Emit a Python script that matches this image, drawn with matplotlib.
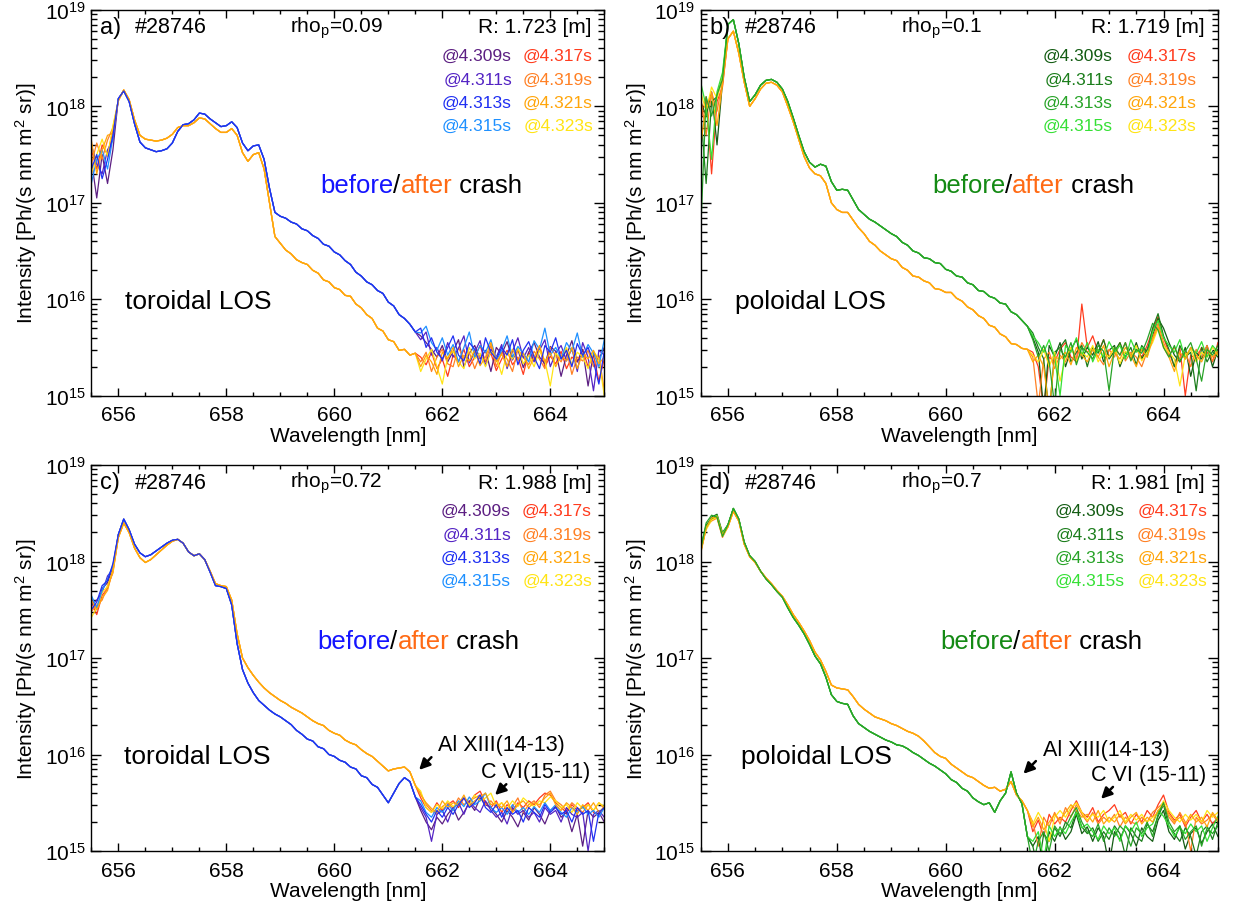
import numpy as np
import matplotlib
matplotlib.use("Agg")
import matplotlib.pyplot as plt
from matplotlib.ticker import MultipleLocator, LogLocator, NullFormatter

plt.rcParams['font.family'] = ['Liberation Sans', 'DejaVu Sans']
plt.rcParams['mathtext.fontset'] = 'custom'
plt.rcParams['mathtext.rm'] = 'Liberation Sans'
plt.rcParams['mathtext.it'] = 'Liberation Sans:italic'

# wavelength sampling (nm): left noisy edge, smooth body, noisy tail
wl_head = np.round(np.arange(655.5, 655.95, 0.1), 2)
wl_base = np.round(np.arange(656.0, 661.55, 0.1), 2)
wl_tail = np.round(np.arange(661.6, 665.05, 0.1), 2)

times_before = ['@4.309s', '@4.311s', '@4.313s', '@4.315s']
times_after = ['@4.317s', '@4.319s', '@4.321s', '@4.323s']

# ---- panel a : toroidal LOS, rho_p=0.09 (log10 intensity) ----
a_before_base = [18.08, 18.16, 18.05, 17.82, 17.63, 17.57, 17.55, 17.53, 17.54, 17.56,
                 17.62, 17.74, 17.81, 17.82, 17.86, 17.93, 17.92, 17.87, 17.83, 17.79,
                 17.80, 17.84, 17.78, 17.62, 17.54, 17.59, 17.60, 17.45, 17.15, 16.90,
                 16.86, 16.84, 16.80, 16.78, 16.73, 16.71, 16.66, 16.63, 16.57, 16.55,
                 16.49, 16.46, 16.40, 16.36, 16.28, 16.24, 16.18, 16.15, 16.09, 16.06,
                 15.97, 15.93, 15.84, 15.80, 15.74, 15.66]
a_after_base = [18.06, 18.17, 18.07, 17.86, 17.70, 17.66, 17.65, 17.64, 17.65, 17.67,
                17.71, 17.78, 17.80, 17.80, 17.83, 17.88, 17.87, 17.82, 17.77, 17.73,
                17.73, 17.77, 17.70, 17.52, 17.43, 17.50, 17.52, 17.35, 17.00, 16.65,
                16.58, 16.51, 16.47, 16.41, 16.38, 16.36, 16.30, 16.27, 16.20, 16.18,
                16.12, 16.10, 16.04, 16.03, 15.95, 15.91, 15.84, 15.80, 15.70, 15.67,
                15.58, 15.56, 15.47, 15.48, 15.42, 15.44]
a_before_heads = [[17.45, 17.05, 17.50, 17.20, 17.55],
                  [17.60, 17.40, 17.30, 17.55, 17.65],
                  [17.35, 17.50, 17.25, 17.45, 17.70],
                  [17.20, 17.45, 17.55, 17.35, 17.68]]
a_after_heads = [[17.55, 17.35, 17.60, 17.50, 17.75],
                 [17.40, 17.62, 17.45, 17.65, 17.78],
                 [17.65, 17.30, 17.55, 17.70, 17.72],
                 [17.30, 17.50, 17.66, 17.48, 17.80]]
a_before_tails = [
    [15.62, 15.55, 15.48, 15.40, 15.52, 15.35, 15.46, 15.58, 15.30, 15.44, 15.52, 15.38, 15.47, 15.25, 15.50, 15.43, 15.56, 15.37,
     15.48, 15.29, 15.45, 15.55, 15.40, 15.33, 15.51, 15.46, 15.20, 15.42, 15.57, 15.35, 15.48, 15.10, 15.44, 15.38, 15.50],
    [15.58, 15.66, 15.42, 15.50, 15.36, 15.55, 15.40, 15.49, 15.62, 15.34, 15.45, 15.57, 15.31, 15.48, 15.40, 15.53, 15.28, 15.46,
     15.60, 15.39, 15.50, 15.35, 15.47, 15.58, 15.30, 15.44, 15.52, 15.36, 15.49, 15.25, 15.55, 15.40, 15.05, 15.47, 15.42],
    [15.70, 15.50, 15.60, 15.45, 15.38, 15.50, 15.62, 15.42, 15.36, 15.55, 15.48, 15.33, 15.60, 15.45, 15.38, 15.50, 15.42, 15.58,
     15.32, 15.47, 15.56, 15.40, 15.28, 15.52, 15.45, 15.60, 15.38, 15.47, 15.30, 15.54, 15.42, 15.50, 15.35, 15.12, 15.46],
    [15.65, 15.72, 15.55, 15.47, 15.60, 15.42, 15.53, 15.35, 15.50, 15.66, 15.40, 15.52, 15.45, 15.58, 15.36, 15.47, 15.62, 15.40,
     15.51, 15.44, 15.35, 15.57, 15.48, 15.70, 15.42, 15.50, 15.38, 15.55, 15.46, 15.65, 15.40, 15.53, 15.44, 15.30, 15.58]]
a_after_tails = [
    [15.40, 15.32, 15.45, 15.28, 15.38, 15.20, 15.42, 15.35, 15.48, 15.30, 15.40, 15.52, 15.35, 15.44, 15.26, 15.38, 15.47, 15.32,
     15.40, 15.22, 15.45, 15.36, 15.50, 15.30, 15.41, 15.33, 15.46, 15.28, 15.40, 15.35, 15.48, 15.30, 15.42, 15.15, 15.38],
    [15.35, 15.45, 15.25, 15.40, 15.48, 15.33, 15.30, 15.50, 15.38, 15.45, 15.28, 15.42, 15.36, 15.52, 15.30, 15.45, 15.38, 15.25,
     15.48, 15.40, 15.32, 15.46, 15.38, 15.28, 15.50, 15.42, 15.35, 15.48, 15.22, 15.40, 15.36, 15.47, 15.30, 15.42, 15.05],
    [15.30, 15.42, 15.35, 15.22, 15.45, 15.38, 15.50, 15.30, 15.42, 15.36, 15.47, 15.31, 15.40, 15.55, 15.35, 15.43, 15.30, 15.48,
     15.37, 15.44, 15.28, 15.40, 15.52, 15.35, 15.45, 15.30, 15.42, 15.36, 15.50, 15.28, 15.44, 15.38, 15.47, 15.33, 15.40],
    [15.25, 15.38, 15.48, 15.30, 15.12, 15.40, 15.46, 15.35, 15.28, 15.50, 15.38, 15.44, 15.30, 15.46, 15.40, 15.22, 15.45, 15.38,
     15.50, 15.33, 15.42, 15.30, 15.47, 15.36, 15.10, 15.44, 15.38, 15.50, 15.32, 15.45, 15.40, 15.28, 15.46, 15.38, 15.00]]

# ---- panel b : poloidal LOS, rho_p=0.1 ----
b_before_base = [18.85, 18.90, 18.65, 18.30, 18.05, 18.12, 18.22, 18.27, 18.28, 18.25,
                 18.18, 18.05, 17.88, 17.70, 17.53, 17.42, 17.37, 17.40, 17.38, 17.22,
                 17.13, 17.14, 17.13, 17.03, 16.93, 16.88, 16.83, 16.80, 16.76, 16.72,
                 16.68, 16.65, 16.59, 16.56, 16.50, 16.48, 16.43, 16.42, 16.38, 16.37,
                 16.31, 16.29, 16.24, 16.23, 16.17, 16.15, 16.09, 16.08, 16.03, 16.01,
                 15.96, 15.95, 15.87, 15.84, 15.78, 15.72]
b_after_base = [18.70, 18.78, 18.55, 18.25, 18.00, 18.08, 18.18, 18.24, 18.25, 18.22,
                18.15, 18.00, 17.84, 17.66, 17.48, 17.36, 17.30, 17.28, 17.20, 17.00,
                16.93, 16.90, 16.90, 16.82, 16.74, 16.68, 16.60, 16.56, 16.50, 16.46,
                16.42, 16.40, 16.33, 16.30, 16.24, 16.23, 16.19, 16.17, 16.11, 16.10,
                16.07, 16.07, 16.01, 15.98, 15.92, 15.89, 15.83, 15.80, 15.73, 15.71,
                15.64, 15.61, 15.54, 15.53, 15.49, 15.48]
b_before_heads = [[18.05, 17.90, 18.15, 17.60, 18.25],
                  [17.95, 17.20, 18.05, 18.10, 18.30],
                  [16.70, 18.10, 17.90, 18.12, 18.28],
                  [18.25, 18.00, 17.45, 18.15, 18.35]]
b_after_heads = [[17.85, 18.10, 17.30, 18.05, 18.20],
                 [18.10, 17.70, 18.15, 17.95, 18.25],
                 [17.60, 18.00, 18.12, 17.80, 18.22],
                 [18.15, 17.95, 18.20, 18.08, 18.30]]
b_before_tails = [
    [15.60, 15.45, 14.85, 15.52, 15.40, 15.55, 15.30, 15.48, 15.58, 15.38, 15.50, 15.42, 15.56, 15.35, 15.47, 15.52, 15.30, 15.45,
     15.40, 15.55, 15.38, 15.48, 15.62, 15.80, 15.70, 15.55, 15.42, 15.35, 15.50, 15.20, 15.45, 15.38, 15.52, 15.30, 15.48],
    [15.65, 15.50, 15.38, 14.80, 15.45, 15.50, 15.58, 15.35, 15.45, 15.52, 15.30, 15.50, 15.44, 15.58, 15.38, 15.46, 15.55, 15.40,
     15.50, 15.32, 15.52, 15.45, 15.70, 15.85, 15.62, 15.48, 15.30, 15.52, 15.40, 15.45, 15.05, 15.50, 15.35, 15.46, 15.40],
    [15.58, 15.40, 15.52, 15.35, 14.90, 15.48, 15.40, 15.55, 15.32, 15.50, 15.45, 15.38, 15.52, 15.46, 15.05, 15.50, 15.42, 15.55,
     15.36, 15.48, 15.44, 15.58, 15.75, 15.68, 15.50, 15.40, 15.52, 15.35, 15.46, 15.55, 15.38, 15.15, 15.48, 15.42, 15.52],
    [15.62, 15.55, 15.45, 15.58, 15.40, 15.00, 15.52, 15.45, 15.60, 15.42, 15.55, 15.35, 15.48, 15.40, 15.56, 15.45, 15.52, 15.38,
     15.58, 15.45, 15.50, 15.40, 15.66, 15.78, 15.60, 15.52, 15.45, 15.58, 15.38, 15.50, 15.44, 15.56, 15.40, 15.52, 15.45]]
b_after_tails = [
    [15.45, 15.30, 14.85, 15.40, 15.35, 15.48, 15.55, 15.40, 15.35, 15.95, 15.50, 15.62, 15.45, 15.58, 15.40, 15.50, 15.42, 15.55,
     15.38, 15.48, 15.40, 15.52, 15.68, 15.82, 15.60, 15.45, 15.30, 15.50, 15.00, 15.42, 15.38, 15.50, 15.45, 15.35, 15.55],
    [15.40, 14.90, 15.38, 15.45, 15.28, 15.42, 15.35, 15.50, 15.38, 15.55, 15.45, 15.50, 15.40, 15.32, 15.48, 15.40, 15.55, 15.36,
     15.45, 15.40, 15.30, 15.46, 15.60, 15.75, 15.55, 15.42, 15.50, 15.38, 15.45, 15.30, 15.48, 15.40, 15.52, 15.36, 15.45],
    [15.35, 15.42, 15.30, 14.85, 15.40, 15.38, 15.45, 15.32, 15.50, 15.42, 15.35, 15.48, 15.40, 15.52, 15.30, 15.45, 15.38, 15.50,
     15.42, 15.30, 15.48, 15.40, 15.58, 15.72, 15.50, 15.40, 15.25, 15.45, 15.38, 15.50, 15.42, 15.35, 15.48, 15.40, 15.46],
    [15.42, 15.35, 15.48, 15.30, 15.45, 15.15, 15.40, 15.50, 15.36, 15.45, 15.40, 15.52, 15.35, 15.45, 15.40, 15.50, 15.33, 15.46,
     15.40, 15.52, 15.36, 15.45, 15.55, 15.70, 15.52, 15.45, 15.38, 15.10, 15.42, 15.48, 15.35, 15.45, 15.40, 15.50, 15.42]]

# ---- panel c : toroidal LOS, rho_p=0.72 ----
c_before_base = [18.28, 18.44, 18.33, 18.18, 18.09, 18.05, 18.07, 18.11, 18.15, 18.19,
                 18.22, 18.23, 18.19, 18.10, 18.06, 18.08, 18.02, 17.89, 17.75, 17.74,
                 17.72, 17.55, 17.15, 16.88, 16.74, 16.64, 16.56, 16.51, 16.46, 16.42,
                 16.39, 16.35, 16.31, 16.25, 16.21, 16.16, 16.14, 16.08, 16.06, 16.00,
                 15.98, 15.94, 15.92, 15.87, 15.85, 15.78, 15.76, 15.69, 15.66, 15.58,
                 15.50, 15.60, 15.70, 15.76, 15.72, 15.56]
c_after_base = [18.25, 18.40, 18.30, 18.14, 18.04, 17.99, 18.02, 18.07, 18.12, 18.17,
                18.21, 18.23, 18.19, 18.10, 18.06, 18.08, 18.02, 17.90, 17.77, 17.75,
                17.74, 17.60, 17.25, 17.00, 16.90, 16.82, 16.75, 16.69, 16.64, 16.60,
                16.56, 16.53, 16.49, 16.46, 16.43, 16.39, 16.35, 16.32, 16.30, 16.25,
                16.22, 16.20, 16.15, 16.12, 16.10, 16.05, 16.01, 15.98, 15.93, 15.88,
                15.83, 15.85, 15.86, 15.87, 15.82, 15.68]
c_before_heads = [[17.62, 17.50, 17.72, 17.78, 17.95],
                  [17.55, 17.60, 17.68, 17.85, 17.92],
                  [17.50, 17.58, 17.75, 17.80, 17.98],
                  [17.65, 17.52, 17.70, 17.82, 17.96]]
c_after_heads = [[17.58, 17.45, 17.65, 17.72, 17.90],
                 [17.48, 17.55, 17.60, 17.75, 17.88],
                 [17.60, 17.50, 17.62, 17.70, 17.92],
                 [17.42, 17.52, 17.68, 17.74, 17.90]]
c_before_tails = [
    [15.42, 15.30, 15.22, 15.35, 15.28, 15.38, 15.45, 15.32, 15.40, 15.50, 15.42, 15.55, 15.48, 15.45, 15.38, 15.30, 15.42, 15.35,
     15.25, 15.40, 15.32, 15.45, 15.38, 15.28, 15.42, 15.46, 15.35, 15.40, 15.20, 15.38, 15.05, 15.42, 15.35, 15.40, 15.30],
    [15.45, 15.35, 15.10, 15.38, 15.42, 15.30, 15.45, 15.50, 15.38, 15.52, 15.45, 15.40, 15.52, 15.42, 15.35, 15.40, 15.28, 15.45,
     15.38, 15.42, 15.35, 15.40, 15.30, 15.45, 15.38, 15.42, 15.30, 15.45, 15.38, 15.35, 15.40, 15.00, 15.38, 15.42, 15.35],
    [15.48, 15.38, 15.30, 15.42, 15.35, 15.45, 15.38, 15.48, 15.55, 15.45, 15.50, 15.58, 15.45, 15.40, 15.48, 15.35, 15.45, 15.38,
     15.42, 15.30, 15.45, 15.40, 15.35, 15.48, 15.40, 15.45, 15.38, 15.42, 15.30, 15.45, 15.38, 15.42, 15.10, 15.40, 15.45],
    [15.52, 15.40, 15.35, 15.45, 15.40, 15.48, 15.42, 15.52, 15.46, 15.56, 15.48, 15.52, 15.60, 15.45, 15.40, 15.45, 15.38, 15.48,
     15.40, 15.45, 15.38, 15.46, 15.40, 15.50, 15.42, 15.48, 15.40, 15.35, 15.45, 15.40, 15.46, 15.38, 15.42, 15.35, 15.45]]
c_after_tails = [
    [15.55, 15.45, 15.40, 15.50, 15.42, 15.48, 15.52, 15.45, 15.55, 15.50, 15.58, 15.62, 15.50, 15.45, 15.52, 15.40, 15.48, 15.42,
     15.50, 15.45, 15.52, 15.48, 15.55, 15.60, 15.58, 15.50, 15.45, 15.40, 15.48, 15.42, 15.45, 15.50, 15.40, 15.38, 15.45],
    [15.60, 15.48, 15.42, 15.38, 15.46, 15.50, 15.44, 15.55, 15.48, 15.52, 15.55, 15.58, 15.48, 15.52, 15.45, 15.50, 15.42, 15.46,
     15.55, 15.40, 15.48, 15.52, 15.45, 15.58, 15.62, 15.52, 15.48, 15.42, 15.50, 15.45, 15.40, 15.48, 15.42, 15.50, 15.44],
    [15.58, 15.50, 15.44, 15.40, 15.52, 15.45, 15.50, 15.48, 15.58, 15.46, 15.52, 15.56, 15.60, 15.48, 15.50, 15.45, 15.52, 15.40,
     15.48, 15.52, 15.45, 15.50, 15.48, 15.55, 15.60, 15.48, 15.42, 15.50, 15.45, 15.38, 15.48, 15.42, 15.50, 15.40, 15.46],
    [15.62, 15.45, 15.40, 15.48, 15.44, 15.52, 15.46, 15.50, 15.55, 15.48, 15.58, 15.52, 15.55, 15.60, 15.46, 15.50, 15.44, 15.52,
     15.46, 15.55, 15.50, 15.46, 15.52, 15.50, 15.56, 15.52, 15.45, 15.48, 15.40, 15.50, 15.44, 15.48, 15.42, 15.50, 15.46]]

# ---- panel d : poloidal LOS, rho_p=0.7 ----
d_before_base = [18.38, 18.55, 18.44, 18.20, 18.06, 18.00, 17.90, 17.82, 17.76, 17.69,
                 17.63, 17.52, 17.42, 17.34, 17.25, 17.14, 17.02, 16.94, 16.80, 16.62,
                 16.55, 16.53, 16.52, 16.40, 16.32, 16.28, 16.24, 16.21, 16.18, 16.15,
                 16.13, 16.10, 16.09, 16.06, 16.02, 15.99, 15.95, 15.91, 15.88, 15.84,
                 15.80, 15.74, 15.71, 15.65, 15.62, 15.55, 15.51, 15.48, 15.50, 15.40,
                 15.52, 15.60, 15.82, 15.60, 15.49, 15.15]
d_after_base = [18.36, 18.52, 18.42, 18.18, 18.05, 17.99, 17.90, 17.83, 17.77, 17.70,
                17.64, 17.55, 17.45, 17.37, 17.28, 17.18, 17.06, 16.98, 16.86, 16.72,
                16.69, 16.68, 16.67, 16.60, 16.52, 16.47, 16.43, 16.39, 16.37, 16.35,
                16.32, 16.30, 16.27, 16.24, 16.22, 16.19, 16.14, 16.08, 16.02, 15.98,
                15.96, 15.90, 15.86, 15.82, 15.78, 15.76, 15.72, 15.68, 15.65, 15.66,
                15.62, 15.64, 15.72, 15.58, 15.52, 15.42]
d_before_heads = [[18.10, 18.36, 18.46, 18.49, 18.30],
                  [18.14, 18.38, 18.44, 18.47, 18.28],
                  [18.12, 18.40, 18.48, 18.46, 18.26],
                  [18.16, 18.35, 18.45, 18.48, 18.29]]
d_after_heads = [[18.10, 18.34, 18.44, 18.46, 18.27],
                 [18.12, 18.36, 18.42, 18.45, 18.25],
                 [18.08, 18.35, 18.45, 18.47, 18.28],
                 [18.11, 18.33, 18.43, 18.46, 18.26]]
d_before_tails = [
    [15.05, 15.15, 14.80, 15.20, 15.10, 15.25, 15.12, 15.20, 15.38, 15.18, 15.25, 15.10, 15.24, 15.15, 14.85, 15.20, 15.12, 15.26,
     15.18, 15.05, 15.24, 15.15, 15.10, 15.32, 15.42, 15.20, 15.12, 15.26, 15.02, 15.18, 15.24, 15.08, 15.20, 15.28, 15.15],
    [15.05, 14.80, 15.18, 15.10, 15.24, 15.15, 15.30, 15.24, 15.42, 15.25, 15.18, 15.24, 15.10, 15.20, 15.12, 15.26, 15.18, 14.95,
     15.24, 15.15, 15.10, 15.28, 15.20, 15.36, 15.48, 15.25, 15.18, 15.10, 15.24, 15.15, 14.95, 15.20, 15.26, 15.12, 15.30],
    [14.85, 15.10, 15.20, 15.00, 15.26, 15.18, 15.24, 15.36, 15.45, 15.30, 15.20, 15.15, 15.28, 15.10, 15.24, 15.15, 15.26, 15.20,
     15.05, 15.24, 15.18, 15.30, 15.15, 15.38, 15.50, 15.30, 15.20, 15.26, 15.12, 15.20, 15.26, 15.05, 15.24, 15.18, 15.26],
    [15.10, 15.20, 14.90, 15.26, 15.15, 15.24, 15.18, 15.30, 15.40, 15.24, 15.28, 15.20, 15.12, 15.26, 15.18, 15.24, 15.10, 15.26,
     15.20, 15.30, 15.15, 15.24, 15.28, 15.42, 15.36, 15.26, 15.15, 15.24, 15.18, 15.28, 15.20, 15.26, 15.10, 15.24, 15.36]]
d_after_tails = [
    [15.20, 15.32, 15.15, 15.38, 15.28, 15.35, 15.30, 15.42, 15.52, 15.40, 15.35, 15.45, 15.30, 15.38, 15.42, 15.48, 15.35, 15.40,
     15.28, 15.38, 15.30, 15.42, 15.35, 15.48, 15.58, 15.40, 15.32, 15.38, 15.25, 15.35, 15.42, 15.30, 15.38, 15.28, 15.35],
    [15.30, 15.05, 15.35, 15.25, 15.40, 15.28, 15.45, 15.35, 15.48, 15.38, 15.30, 15.40, 15.28, 15.35, 15.30, 15.38, 15.25, 15.35,
     15.30, 15.28, 15.35, 15.30, 15.40, 15.45, 15.50, 15.35, 15.28, 15.40, 15.30, 15.00, 15.35, 15.28, 15.32, 15.38, 15.30],
    [15.25, 15.35, 15.22, 15.30, 15.38, 15.32, 15.40, 15.48, 15.42, 15.35, 15.38, 15.30, 15.42, 15.28, 15.35, 15.30, 15.38, 15.28,
     15.35, 15.40, 15.28, 15.35, 15.30, 15.42, 15.48, 15.38, 15.30, 15.35, 15.28, 15.38, 15.30, 15.35, 15.25, 15.40, 15.32],
    [15.28, 15.40, 15.30, 15.10, 15.35, 15.42, 15.35, 15.45, 15.50, 15.40, 15.32, 15.38, 15.35, 15.42, 15.30, 15.35, 15.42, 15.30,
     15.38, 15.32, 15.38, 15.30, 15.35, 15.40, 15.52, 15.42, 15.35, 15.30, 15.38, 15.32, 15.38, 15.30, 15.42, 15.35, 15.40]]

# colours
blue_cols = ['#5c1f82', '#5424c4', '#1f2ff2', '#1e90ff']
green_cols = ['#135c13', '#1b7d1b', '#27a327', '#35e035']
after_cols = ['#ff3c1e', '#ff8024', '#ffa50a', '#ffe414']

panels = [
    dict(tag='a)', rho='0.09', R='1.723', los='toroidal LOS', cols=blue_cols, bword='#1414ff',
         bb=a_before_base, ab=a_after_base, bh=a_before_heads, ah=a_after_heads,
         bt=a_before_tails, at=a_after_tails, leg=(0.820, 0.978), ba_x=0.446, los_x=0.066, lines=False),
    dict(tag='b)', rho='0.1', R='1.719', los='poloidal LOS', cols=green_cols, bword='#148a14',
         bb=b_before_base, ab=b_after_base, bh=b_before_heads, ah=b_after_heads,
         bt=b_before_tails, at=b_after_tails, leg=(0.797, 0.959), ba_x=0.447, los_x=0.066, lines=False),
    dict(tag='c)', rho='0.72', R='1.988', los='toroidal LOS', cols=blue_cols, bword='#1414ff',
         bb=c_before_base, ab=c_after_base, bh=c_before_heads, ah=c_after_heads,
         bt=c_before_tails, at=c_after_tails, leg=(0.818, 0.976), ba_x=0.440, los_x=0.063, lines=True,
         cvi='C VI(15-11)'),
    dict(tag='d)', rho='0.7', R='1.981', los='poloidal LOS', cols=green_cols, bword='#148a14',
         bb=d_before_base, ab=d_after_base, bh=d_before_heads, ah=d_after_heads,
         bt=d_before_tails, at=d_after_tails, leg=(0.819, 0.979), ba_x=0.463, los_x=0.078, lines=True,
         cvi='C VI (15-11)'),
]

rects = [[0.0739, 0.5651, 0.4150, 0.4229],
         [0.5669, 0.5651, 0.4185, 0.4229],
         [0.0739, 0.0658, 0.4150, 0.4232],
         [0.5669, 0.0658, 0.4185, 0.4232]]

# arrow geometry for the line labels in c) and d), axes fraction
arrows = {2: dict(al_txt=(0.675, 0.277), al_head=(0.639, 0.210), al_tail=(0.663, 0.243),
                  c_txt=(0.759, 0.205), c_head=(0.787, 0.145), c_tail=(0.809, 0.173)),
          3: dict(al_txt=(0.662, 0.264), al_head=(0.624, 0.200), al_tail=(0.648, 0.233),
                  c_txt=(0.755, 0.197), c_head=(0.774, 0.135), c_tail=(0.797, 0.166))}

wl = np.concatenate([wl_head, wl_base, wl_tail])

fig = plt.figure(figsize=(12.36, 9.12), dpi=100)

for i, p in enumerate(panels):
    ax = fig.add_axes(rects[i])
    # interleave after/before so the colours mix in the noisy parts
    for k in [0, 1, 3, 2]:
        ya = np.concatenate([p['ah'][k], p['ab'], p['at'][k]])
        yb = np.concatenate([p['bh'][k], p['bb'], p['bt'][k]])
        ax.plot(wl, 10 ** ya, color=after_cols[k], lw=0.9)
        ax.plot(wl, 10 ** yb, color=p['cols'][k], lw=0.9)

    ax.set_yscale('log')
    ax.set_xlim(655.5, 665.0)
    ax.set_ylim(1e15, 1e19)
    ax.xaxis.set_major_locator(MultipleLocator(2))
    ax.xaxis.set_minor_locator(MultipleLocator(0.5))
    ax.yaxis.set_major_locator(LogLocator(base=10))
    ax.yaxis.set_minor_locator(LogLocator(base=10, subs=np.arange(2, 10)))
    ax.yaxis.set_minor_formatter(NullFormatter())
    ax.tick_params(which='both', direction='in', top=True, right=True, labelsize=15)
    ax.tick_params(axis='x', which='major', length=6, width=1, pad=7)
    ax.tick_params(axis='x', which='minor', length=3, width=1)
    ax.tick_params(axis='y', which='major', length=7, width=1, pad=4)
    ax.tick_params(axis='y', which='minor', length=4, width=1)
    for s in ax.spines.values():
        s.set_linewidth(1.0)
    ax.set_xlabel('Wavelength [nm]', fontsize=15, labelpad=1)
    ax.set_ylabel('Intensity [Ph/(s nm m$^2$ sr)]', fontsize=15, labelpad=4)

    # header line
    ax.text(0.017, 0.956, p['tag'], transform=ax.transAxes, fontsize=17, va='center')
    ax.text(0.085, 0.956, '#28746', transform=ax.transAxes, fontsize=15.5, va='center')
    ax.text(0.387, 0.956, 'rho$_{\\mathregular{p}}$=' + p['rho'], transform=ax.transAxes,
            fontsize=15, va='center')
    ax.text(0.975, 0.956, 'R: ' + p['R'] + ' [m]', transform=ax.transAxes, fontsize=15,
            va='center', ha='right')

    # time legend
    rows = [0.883, 0.821, 0.761, 0.702]
    for k in range(4):
        ax.text(p['leg'][0], rows[k], times_before[k], color=p['cols'][k], fontsize=12.5,
                transform=ax.transAxes, ha='right', va='center')
        ax.text(p['leg'][1], rows[k], times_after[k], color=after_cols[k], fontsize=12.5,
                transform=ax.transAxes, ha='right', va='center')

    # before/after crash
    t1 = ax.text(p['ba_x'], 0.545, 'before', color=p['bword'], fontsize=18.5,
                 transform=ax.transAxes, va='center')
    t2 = ax.annotate('/', xy=(1, 0), xycoords=t1, color='k', fontsize=18.5, va='bottom')
    t3 = ax.annotate('after', xy=(1, 0), xycoords=t2, color='#ff6a14', fontsize=18.5, va='bottom')
    ax.annotate(' crash', xy=(1, 0), xycoords=t3, color='k', fontsize=18.5, va='bottom')

    ax.text(p['los_x'], 0.245, p['los'], transform=ax.transAxes, fontsize=19, va='center')

    if p['lines']:
        g = arrows[i]
        ax.text(g['al_txt'][0], g['al_txt'][1], 'Al XIII(14-13)', transform=ax.transAxes,
                fontsize=15.5, va='center')
        ax.text(g['c_txt'][0], g['c_txt'][1], p['cvi'], transform=ax.transAxes,
                fontsize=15.5, va='center')
        for h, tl in [(g['al_head'], g['al_tail']), (g['c_head'], g['c_tail'])]:
            ax.annotate('', xy=h, xycoords='axes fraction', xytext=tl, textcoords='axes fraction',
                        arrowprops=dict(arrowstyle='-|>', color='k', lw=1.8, mutation_scale=16,
                                        shrinkA=0, shrinkB=0))

fig.savefig('out.png', dpi=100)
